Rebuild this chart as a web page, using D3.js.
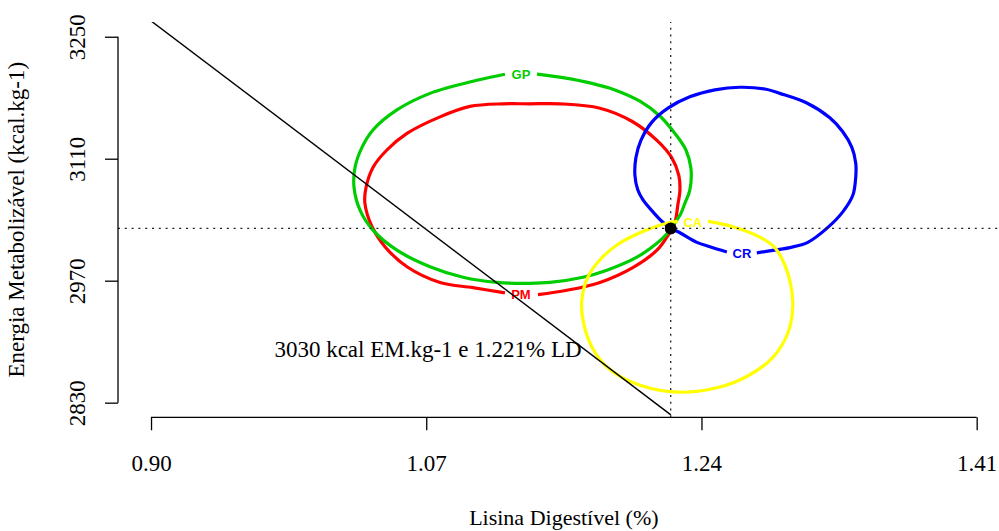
<!DOCTYPE html>
<html>
<head>
<meta charset="utf-8">
<script src="https://cdn.jsdelivr.net/npm/d3@7"></script>
<style>
body { margin: 0; background: #fff; }
svg { display: block; font-family: "Liberation Serif", "Times New Roman", serif; }
</style>
</head>
<body>
<svg></svg>
<script>
let width = 999;
let height = 531;

// axis ticks
let xTicks = [0.90, 1.07, 1.24, 1.41];
let yTicks = [2830, 2970, 3110, 3250];

// contour lines, [lisina, energia], each one starts and ends at its label
let gpPoints = [
    [1.1384, 3207], [1.1544, 3203], [1.1711, 3197], [1.1865, 3189], [1.2020, 3176],
    [1.2143, 3159], [1.2236, 3139], [1.2304, 3120], [1.2335, 3099], [1.2328, 3074],
    [1.2298, 3059], [1.2267, 3045], [1.2230, 3035], [1.2193, 3025], [1.2125, 3013],
    [1.2001, 2997], [1.1816, 2982], [1.1668, 2974], [1.1464, 2968], [1.1340, 2967],
    [1.1137, 2968], [1.0927, 2974], [1.0723, 2986], [1.0519, 3005], [1.0371, 3028],
    [1.0291, 3051], [1.0254, 3077], [1.0260, 3100], [1.0303, 3123], [1.0371, 3143],
    [1.0519, 3166], [1.0723, 3185], [1.1013, 3200], [1.1186, 3207]
];
let pmPoints = [
    [1.1390, 2954], [1.1569, 2959], [1.1773, 2968], [1.1976, 2985], [1.2125, 3005],
    [1.2193, 3022], [1.2236, 3037], [1.2254, 3057], [1.2267, 3074], [1.2260, 3091],
    [1.2217, 3111], [1.2125, 3131], [1.1970, 3153], [1.1773, 3168], [1.1526, 3173],
    [1.1340, 3173], [1.1174, 3173], [1.0970, 3170], [1.0785, 3158], [1.0581, 3139],
    [1.0457, 3120], [1.0371, 3100], [1.0328, 3077], [1.0321, 3059], [1.0365, 3032],
    [1.0445, 3009], [1.0581, 2986], [1.0785, 2968], [1.0988, 2962], [1.1186, 2956]
];
let crPoints = [
    [1.2742, 3002], [1.2884, 3006], [1.2946, 3008], [1.3057, 3014], [1.3174, 3030],
    [1.3273, 3049], [1.3335, 3068], [1.3353, 3089], [1.3353, 3105], [1.3329, 3123],
    [1.3273, 3141], [1.3193, 3157], [1.3051, 3174], [1.2884, 3185], [1.2792, 3190],
    [1.2637, 3192], [1.2483, 3189], [1.2328, 3181], [1.2193, 3168], [1.2094, 3152],
    [1.2026, 3131], [1.1995, 3111], [1.1989, 3091], [1.2007, 3074], [1.2038, 3063],
    [1.2100, 3049], [1.2162, 3037], [1.2211, 3030], [1.2267, 3025], [1.2372, 3014],
    [1.2452, 3009], [1.2557, 3003]
];
let caPoints = [
    [1.2440, 3038], [1.2594, 3032], [1.2761, 3020], [1.2853, 3008], [1.2915, 2988],
    [1.2952, 2965], [1.2964, 2940], [1.2934, 2910], [1.2841, 2882], [1.2680, 2860],
    [1.2514, 2848], [1.2267, 2842], [1.2020, 2850], [1.1834, 2868], [1.1723, 2894],
    [1.1668, 2925], [1.1661, 2948], [1.1698, 2974], [1.1773, 2994], [1.1878, 3011],
    [1.2020, 3025], [1.2186, 3036], [1.2254, 3038]
];

let contours = [
    { name: "PM", points: pmPoints, color: "#ff0000", label: [1.1285, 2954] },
    { name: "GP", points: gpPoints, color: "#00cd00", label: [1.1285, 3207] },
    { name: "CR", points: crPoints, color: "#0000ff", label: [1.2650, 3001] },
    { name: "CA", points: caPoints, color: "#ffff00", label: [1.2347, 3037] }
];

// optimum and the straight line
let optimum = [1.221, 3030];
let linePoints = [[0.8994, 3269], [1.2211, 2816]];
let noteText = "3030 kcal EM.kg-1 e 1.221% LD";
let notePos = [1.0711, 2891];

let xPad = (1.41 - 0.90) * 0.04;
let yPad = (3250 - 2830) * 0.04;

let xScale = d3.scaleLinear()
                .domain([0.90 - xPad, 1.41 + xPad])
                .range([118, 1009.7])

let yScale = d3.scaleLinear()
                .domain([2830 - yPad, 3250 + yPad])
                .range([417.3, 22.1])

let svg = d3.select("svg")
            .attr("width", width)
            .attr("height", height)

svg.append("clipPath")
    .attr("id", "plotArea")
    .append("rect")
    .attr("x", xScale.range()[0])
    .attr("y", yScale.range()[1])
    .attr("width", xScale.range()[1] - xScale.range()[0])
    .attr("height", yScale.range()[0] - yScale.range()[1])

let plot = svg.append("g").attr("clip-path", "url(#plotArea)")

let smooth = d3.line()
            .x(d => xScale(d[0]))
            .y(d => yScale(d[1]))
            .curve(d3.curveCatmullRom.alpha(0.5))

let straight = d3.line()
            .x(d => xScale(d[0]))
            .y(d => yScale(d[1]))

plot.selectAll("path.contour")
    .data(contours)
    .enter()
    .append("path")
    .attr("class", "contour")
    .attr("d", d => smooth(d.points))
    .attr("fill", "none")
    .attr("stroke", d => d.color)
    .attr("stroke-width", 3.2)
    .attr("stroke-linejoin", "round")

plot.selectAll("text.clabel")
    .data(contours)
    .enter()
    .append("text")
    .attr("class", "clabel")
    .attr("x", d => xScale(d.label[0]))
    .attr("y", d => yScale(d.label[1]))
    .attr("dy", "0.36em")
    .style("text-anchor", "middle")
    .style("font-family", "'Liberation Sans', Arial, sans-serif")
    .style("font-size", "13px")
    .style("font-weight", "bold")
    .attr("fill", d => d.color)
    .text(d => d.name)

plot.append("path")
    .attr("d", straight(linePoints))
    .attr("fill", "none")
    .attr("stroke", "#000")
    .attr("stroke-width", 1.4)

// dotted guides through the optimum
plot.append("line")
    .attr("x1", xScale(optimum[0]))
    .attr("x2", xScale(optimum[0]))
    .attr("y1", yScale.range()[0])
    .attr("y2", yScale.range()[1])
    .attr("stroke", "#222")
    .attr("stroke-width", 1.3)
    .attr("stroke-dasharray", "2,4.8")

plot.append("line")
    .attr("x1", xScale.range()[0])
    .attr("x2", xScale.range()[1])
    .attr("y1", yScale(optimum[1]))
    .attr("y2", yScale(optimum[1]))
    .attr("stroke", "#222")
    .attr("stroke-width", 1.3)
    .attr("stroke-dasharray", "2,4.8")

plot.append("circle")
    .attr("cx", xScale(optimum[0]))
    .attr("cy", yScale(optimum[1]))
    .attr("r", 6)
    .attr("fill", "#000")

svg.append("text")
    .attr("x", xScale(notePos[0]))
    .attr("y", yScale(notePos[1]))
    .attr("dy", "0.33em")
    .style("text-anchor", "middle")
    .style("font-size", "23px")
    .text(noteText)

// axes, lines only span the ticks like R does
let xAxis = d3.axisBottom(xScale)
                .tickValues(xTicks)
                .tickSize(13)
                .tickPadding(24)
                .tickFormat(d3.format(".2f"))

let yAxis = d3.axisLeft(yScale)
                .tickValues(yTicks)
                .tickSize(13)
                .tickFormat(d3.format("d"))

let gx = svg.append("g")
    .attr("transform", "translate(0, " + yScale.range()[0] + ")")
    .call(xAxis)

gx.select(".domain").remove()
gx.append("line")
    .attr("x1", xScale(xTicks[0]))
    .attr("x2", xScale(xTicks[xTicks.length - 1]))
    .attr("stroke", "#000")
    .attr("stroke-width", 1.3)
gx.selectAll(".tick line").attr("stroke-width", 1.3)
gx.selectAll("text")
    .style("font-family", "'Liberation Serif', 'Times New Roman', serif")
    .style("font-size", "23px")
    .attr("fill", "#000")

let gy = svg.append("g")
    .attr("transform", "translate(" + xScale.range()[0] + ", 0)")
    .call(yAxis)

gy.select(".domain").remove()
gy.append("line")
    .attr("y1", yScale(yTicks[0]))
    .attr("y2", yScale(yTicks[yTicks.length - 1]))
    .attr("stroke", "#000")
    .attr("stroke-width", 1.3)
gy.selectAll(".tick line").attr("stroke-width", 1.3)
gy.selectAll("text")
    .attr("x", null)
    .attr("dy", null)
    .attr("transform", "translate(-33, 0) rotate(-90)")
    .style("text-anchor", "middle")
    .style("font-family", "'Liberation Serif', 'Times New Roman', serif")
    .style("font-size", "23px")
    .attr("fill", "#000")

svg.append("text")
    .attr("x", (xScale.range()[0] + xScale.range()[1]) / 2)
    .attr("y", 525)
    .style("text-anchor", "middle")
    .style("font-size", "22px")
    .text("Lisina Digestível (%)")

svg.append("text")
    .attr("transform", "translate(24, " + (yScale.range()[0] + yScale.range()[1]) / 2 + ") rotate(-90)")
    .style("text-anchor", "middle")
    .style("font-size", "23px")
    .text("Energia Metabolizável (kcal.kg-1)")
</script>
</body>
</html>
